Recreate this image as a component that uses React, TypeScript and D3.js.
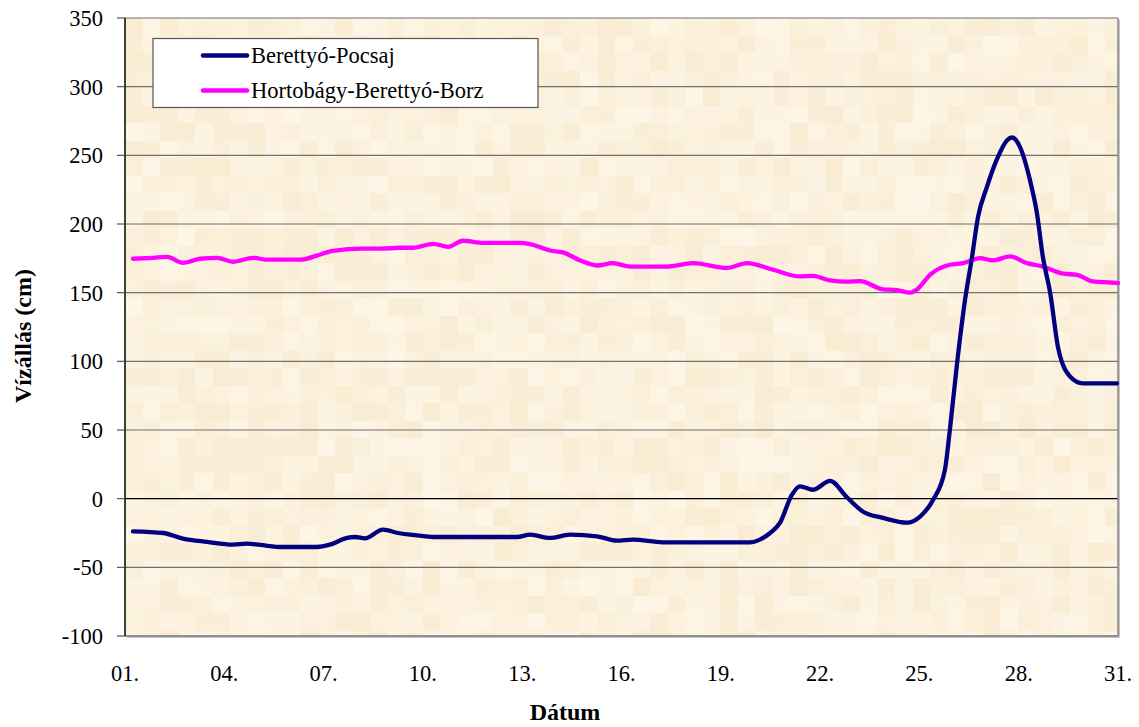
import React from 'react';
import * as d3 from 'd3';

// Berettyó-Pocsaj (day of month, water level in cm)
const pocsajDays = [1.24, 2.15, 2.75, 3.48, 4.26, 4.69, 5.08, 5.77, 6.8, 7.19, 7.71, 7.95, 8.25, 8.79, 9.25, 9.82, 10.31, 12.84, 13.24, 13.84, 14.44, 15.26, 15.86, 16.35, 17.25, 19.88, 20.18, 20.49, 20.79, 21.15, 21.39, 21.79, 22.3, 22.81, 23.3, 23.9, 24.63, 25.02, 25.41, 25.77, 25.92, 26.14, 26.38, 26.59, 26.77, 27.04, 27.34, 27.65, 27.8, 28.04, 28.34, 28.55, 28.73, 28.95, 29.19, 29.31, 29.55, 29.94, 30.97];
const pocsajValues = [-23.8, -25, -29.1, -31.5, -33.5, -32.8, -33.7, -35.2, -35.2, -33.5, -28.6, -27.9, -28.9, -22.6, -25, -26.7, -27.9, -27.9, -26.2, -28.6, -26.2, -27.4, -30.6, -29.8, -31.8, -31.8, -29.8, -25, -17.5, 3, 9, 6.5, 13, 1, -9.5, -14, -17.5, -13, -1, 21, 50, 99, 145, 176, 205, 227, 247, 261, 263, 256, 232, 208, 176, 150, 110, 99, 89, 84, 84];

// Hortobágy-Berettyó-Borz
const borzDays = [1.24, 1.85, 2.27, 2.75, 3.27, 3.78, 4.26, 4.87, 5.29, 6.29, 6.8, 7.28, 8.19, 8.7, 9.31, 9.7, 10.31, 10.76, 11.21, 11.82, 12.93, 13.24, 13.84, 14.23, 14.75, 15.26, 15.74, 16.26, 17.37, 18.16, 19.19, 19.79, 20.58, 21.39, 21.79, 22.3, 22.81, 23.21, 23.9, 24.32, 24.72, 24.93, 25.32, 25.92, 26.32, 26.83, 27.22, 27.74, 28.25, 28.73, 29.34, 29.76, 30.24, 30.76, 31.0];
const borzValues = [174.7, 175.4, 176, 171.8, 174.7, 175.4, 172.5, 175.4, 174, 174, 177, 180.5, 182, 182, 182.7, 182.7, 185.6, 183.4, 187.8, 186.3, 186.3, 185.4, 180.7, 179.3, 173.5, 169.8, 171.5, 169, 169, 171.5, 168, 171.5, 166.7, 161.8, 162.3, 158.9, 158, 158.4, 152.4, 151.9, 150, 152.4, 163, 170.3, 171.5, 175.2, 173.5, 176.4, 171.5, 169, 163.8, 163, 158.2, 157.4, 157];

const yTicks = [-100, -50, 0, 50, 100, 150, 200, 250, 300, 350];
const xTicks = [1, 4, 7, 10, 13, 16, 19, 22, 25, 28, 31];
const xTickLabels = ['01.', '04.', '07.', '10.', '13.', '16.', '19.', '22.', '25.', '28.', '31.'];
const seriesNames = ['Berettyó-Pocsaj', 'Hortobágy-Berettyó-Borz'];
const seriesColors = ['#000080', '#FF00FF'];

const W = 1139;
const H = 727;
const left = 125, right = 1118, top = 18, bottom = 636;

// small deterministic hash for the mottled background texture
const shade = (i: number, j: number) => {
  const s = Math.sin(i * 12.9898 + j * 78.233) * 43758.5453;
  return s - Math.floor(s);
};

const App = () => {
  const x = d3.scaleLinear().domain([1, 31]).range([left, right]);
  const y = d3.scaleLinear().domain([-100, 350]).range([bottom, top]);

  const line = d3.line<[number, number]>()
    .x(d => x(d[0]))
    .y(d => y(d[1]))
    .curve(d3.curveMonotoneX);

  const pocsaj = pocsajDays.map((d, i) => [d, pocsajValues[i]] as [number, number]);
  const borz = borzDays.map((d, i) => [d, borzValues[i]] as [number, number]);

  const cell = 17.5;
  const cols = Math.ceil((right - left) / cell);
  const rows = Math.ceil((bottom - top) / cell);
  const colorScale = d3.scaleLinear<string>().domain([0, 1]).range(['#F9ECD3', '#FDF5E5']);
  const cells: JSX.Element[] = [];
  for (let j = 0; j < rows; j++) {
    for (let i = 0; i < cols; i++) {
      cells.push(
        <rect key={`${i}-${j}`} x={left + i * cell} y={top + j * cell}
          width={Math.min(cell, right - left - i * cell)} height={Math.min(cell, bottom - top - j * cell)}
          fill={colorScale(shade(i, j))} />
      );
    }
  }

  const font = '"Liberation Serif", "Times New Roman", serif';

  return (
    <svg width={W} height={H} style={{ position: 'absolute', left: 0, top: 0, background: '#fff' }} fontFamily={font}>
      {/* shadow */}
      <rect x={left + 2} y={top + 2} width={right - left} height={bottom - top} fill="#c4c4c4" />
      <g shapeRendering="crispEdges">{cells}</g>
      {/* gridlines */}
      {yTicks.map(t => (
        <line key={t} x1={left} x2={right} y1={y(t)} y2={y(t)}
          stroke={t === 0 ? '#000' : '#707070'} strokeWidth={t === 0 ? 1.3 : 1.2} />
      ))}
      {/* frame */}
      <line x1={right} x2={right} y1={top} y2={bottom} stroke="#8a8a8a" strokeWidth={1.5} />
      <line x1={left} x2={right} y1={bottom} y2={bottom} stroke="#8a8a8a" strokeWidth={1.5} />
      <line x1={left} x2={left} y1={top} y2={bottom} stroke="#000" strokeWidth={1.5} />
      {yTicks.map(t => (
        <g key={t}>
          <line x1={left - 8} x2={left} y1={y(t)} y2={y(t)} stroke="#555" strokeWidth={1.2} />
          <text x={103} y={y(t)} dy="0.35em" textAnchor="end" fontSize={22.5} fill="#000">{t}</text>
        </g>
      ))}
      {xTicks.map((t, i) => (
        <text key={t} x={x(t)} y={681} textAnchor="middle" fontSize={22.5} fill="#000">{xTickLabels[i]}</text>
      ))}
      {/* series */}
      <path d={line(borz) || ''} fill="none" stroke={seriesColors[1]} strokeWidth={4.3} strokeLinejoin="round" strokeLinecap="round" />
      <path d={line(pocsaj) || ''} fill="none" stroke={seriesColors[0]} strokeWidth={4.3} strokeLinejoin="round" strokeLinecap="round" />
      {/* legend */}
      <rect x={153} y={38.5} width={385} height={69} fill="#fff" stroke="#555" strokeWidth={1.2} />
      {seriesNames.map((n, i) => (
        <g key={n}>
          <line x1={203} x2={247} y1={55.5 + i * 35} y2={55.5 + i * 35} stroke={seriesColors[i]} strokeWidth={4.5} strokeLinecap="round" />
          <text x={251} y={55.5 + i * 35} dy="0.35em" fontSize={22.5} fill="#000">{n}</text>
        </g>
      ))}
      {/* axis titles */}
      <text x={565} y={720} textAnchor="middle" fontSize={24} fontWeight="bold" fill="#000">Dátum</text>
      <text transform="translate(31,336) rotate(-90)" textAnchor="middle" fontSize={24} fontWeight="bold" fill="#000">Vízállás (cm)</text>
    </svg>
  );
};

export default App;
